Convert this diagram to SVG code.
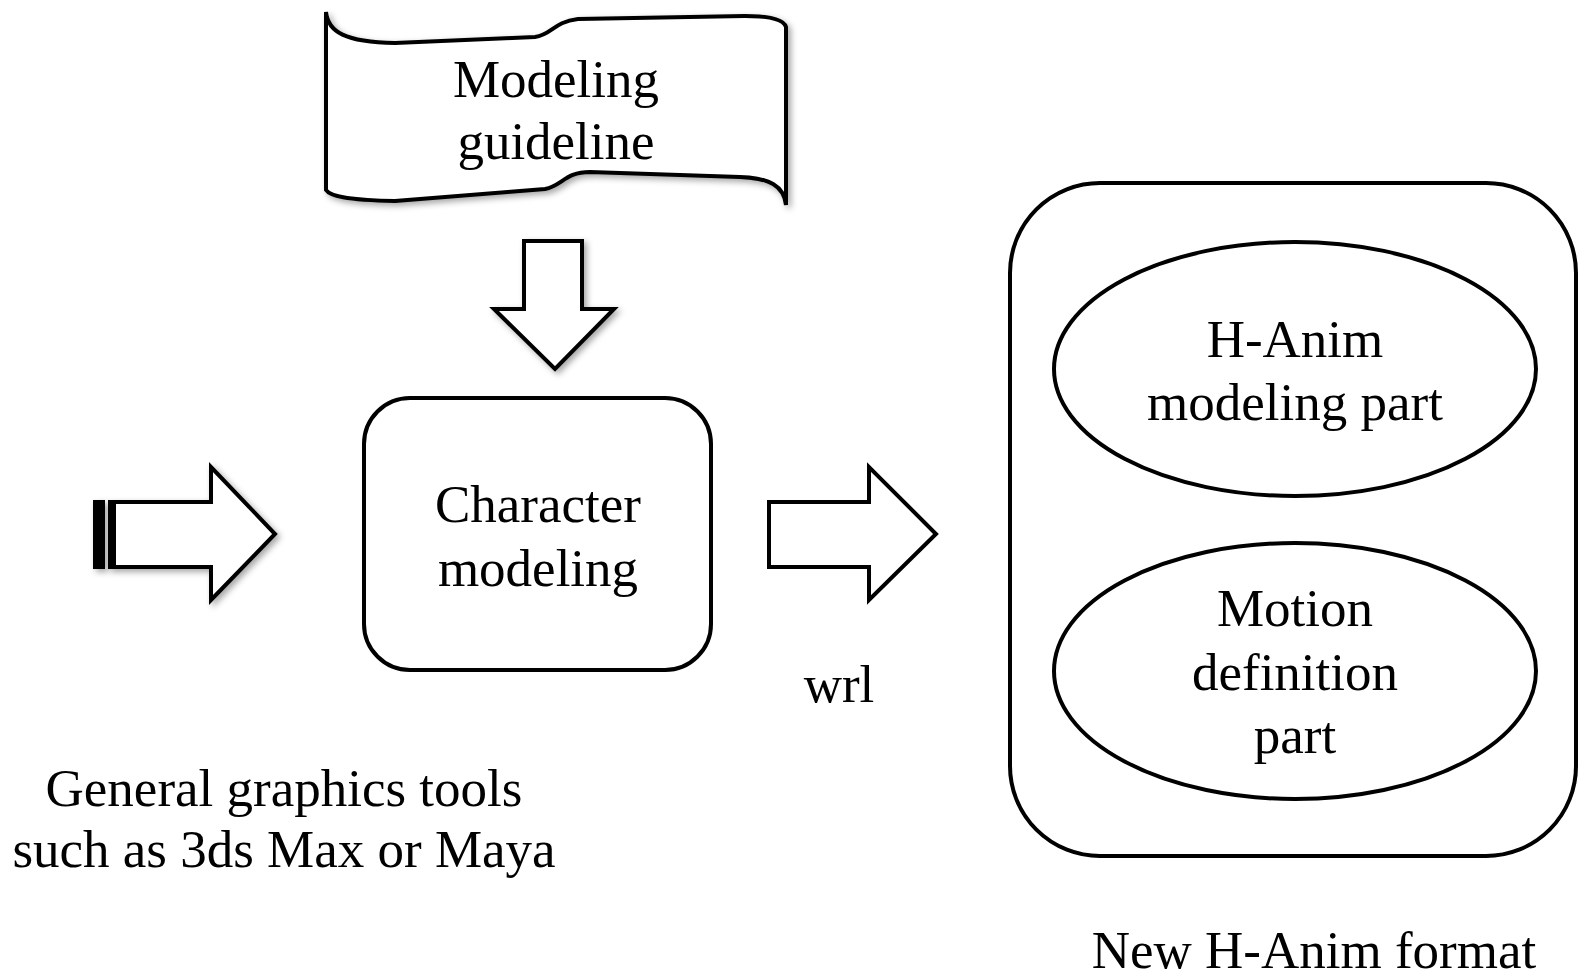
<svg xmlns="http://www.w3.org/2000/svg" width="1579" height="980" viewBox="0 0 1579 980">
<defs>
<style>
.t{font-family:"Liberation Serif","Times New Roman",serif;font-size:53px;fill:#000;text-anchor:middle}
.s{fill:#fff;stroke:#000;stroke-width:4;stroke-linejoin:miter}
.sh{filter:url(#shadow)}
</style>
<filter id="shadow" x="-20%" y="-20%" width="140%" height="140%">
<feDropShadow dx="3" dy="3" stdDeviation="3" flood-color="#000" flood-opacity="0.35"/>
</filter>
</defs>
<rect width="1579" height="980" fill="#fff"/>
<g id="connectors">
<g id="arrow-down" class="sh"><path class="s" d="M524,241 L582,241 L582,309 L614,309 L555,369 L494,309 L524,309 Z"/></g>
<g id="arrow-left" class="sh">
<path class="s" d="M114,502 L211,502 L211,467 L275,534 L211,600 L211,567 L114,567 Z"/>
<rect x="93" y="500" width="12" height="69" fill="#000"/>
<rect x="108" y="500" width="5" height="69" fill="#000"/>
</g>
<g id="arrow-wrl"><path class="s" d="M769,502 L869,502 L869,467 L936,534 L869,600 L869,567 L769,567 Z"/></g>
</g>
<g id="node-guideline">
<path class="s sh" d="M326,12 C328,32 345,42 395,43 L535,37 C552,35 553,22 578,19 L745,16 C772,16 784,20 786,27 L786,205 C784,186 770,178 740,177 L590,172 C565,172 562,186 545,189 L395,201 C345,200 330,196 326,190 Z"/>
<text class="t" x="556" y="97">Modeling</text>
<text class="t" x="556" y="159">guideline</text>
</g>
<g id="node-character">
<rect class="s" x="364" y="398" width="347" height="272" rx="46" ry="46"/>
<text class="t" x="538" y="522">Character</text>
<text class="t" x="538" y="586">modeling</text>
</g>
<g id="label-wrl"><text class="t" x="839" y="702">wrl</text></g>
<g id="label-tools">
<text class="t" x="284" y="806">General graphics tools</text>
<text class="t" x="284" y="867">such as 3ds Max or Maya</text>
</g>
<g id="node-format">
<rect class="s" x="1010" y="183" width="566" height="673" rx="90" ry="90"/>
</g>
<g id="node-hanim">
<ellipse class="s" cx="1295" cy="369" rx="241" ry="127"/>
<text class="t" x="1295" y="357">H-Anim</text>
<text class="t" x="1295" y="420">modeling part</text>
</g>
<g id="node-motion">
<ellipse class="s" cx="1295" cy="671" rx="241" ry="128"/>
<text class="t" x="1295" y="626">Motion</text>
<text class="t" x="1295" y="690">definition</text>
<text class="t" x="1295" y="753">part</text>
</g>
<g id="label-format"><text class="t" x="1314" y="968">New H-Anim format</text></g>
</svg>
